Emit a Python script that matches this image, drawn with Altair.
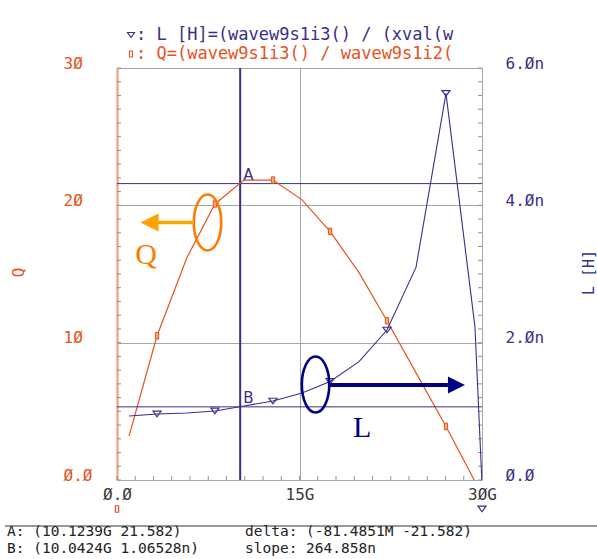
import altair as alt
import pandas as pd

# ---------------- data ----------------
freq_g = [0.99, 3.29, 5.75, 8.05, 10.44, 12.82, 15.21, 17.51, 19.89, 22.19, 24.58, 27.04, 29.42, 30.0]
q_vals = [3.2, 10.5, 16.2, 20.1, 21.84, 21.84, 20.4, 18.1, 15.1, 11.6, 7.8, 3.9, -0.1, None]
l_vals_nh = [0.932, 0.961, 0.976, 1.005, 1.078, 1.150, 1.267, 1.435, 1.723, 2.184, 3.10, 5.63, 2.233, -0.05]
has_marker = [0, 1, 0, 1, 0, 1, 0, 1, 0, 1, 0, 1, 0, 0]

cursor_a = {"f": 10.1239, "q": 21.582, "t": "A"}
cursor_b = {"f": 10.0424, "l": 1.06528, "t": "B"}

x_tick_values = [0, 15, 30]
x_tick_labels = ["Ø.Ø", "15G", "3ØG"]
q_tick_values = [0, 10, 20, 30]
q_tick_labels = ["Ø.Ø", "1Ø", "2Ø", "3Ø"]
l_tick_values = [0, 2, 4, 6]
l_tick_labels = ["Ø.Ø", "2.Øn", "4.Øn", "6.Øn"]
x_minor = [0, 1.5, 3, 4.5, 6, 7.5, 9, 10.5, 12, 13.5, 15, 16.5, 18, 19.5, 21, 22.5, 24, 25.5, 27, 28.5, 30]
q_minor = list(range(31))
l_minor = [round(i * 0.2, 1) for i in range(31)]

legend_l = ": L [H]=(wavew9s1i3() / (xval(w"
legend_q = ": Q=(wavew9s1i3() / wavew9s1i2("
readout_a = "A: (10.1239G 21.582)"
readout_b = "B: (10.0424G 1.06528n)"
readout_delta = "delta: (-81.4851M -21.582)"
readout_slope = "slope: 264.858n"

# annotation anchor positions (data coordinates)
q_ellipse = {"f": 7.44, "q": 18.75}
q_arrow = {"f": 3.37, "f2": 6.33, "head": 2.67, "q": 18.75}
q_letter = {"f": 2.38, "q": 16.4, "t": "Q"}
l_ellipse = {"f": 16.32, "l": 1.39}
l_arrow = {"f": 17.42, "f2": 27.2, "head": 27.9, "l": 1.385}
l_letter = {"f": 20.14, "l": 0.76, "t": "L"}

# ---------------- styling ----------------
Q_COLOR = "#e8521c"
L_COLOR = "#3b2f8a"
GRID = "#a3a7ab"
TICK = "#8f9398"
FONT = "DejaVu Sans Mono"
SANS = "DejaVu Sans"
SERIF = "Liberation Serif"

df = pd.DataFrame({"f": freq_g, "q": q_vals, "l": l_vals_nh, "m": has_marker})


def label_expr(values, labels):
    expr = "''"
    for v, t in reversed(list(zip(values, labels))):
        expr = f"datum.value == {v} ? '{t}' : {expr}"
    return expr


XS = alt.Scale(domain=[0, 30], nice=False, zero=False)
QS = alt.Scale(domain=[0, 30], nice=False, zero=False)
LS = alt.Scale(domain=[0, 6], nice=False, zero=False)

x_axis = alt.Axis(values=x_tick_values, labelExpr=label_expr(x_tick_values, x_tick_labels),
                  labelFont=FONT, labelFontSize=16, labelColor="#3a3a3a", labelFlush=False,
                  labelOverlap=False, labelBaseline="top", labelPadding=6, ticks=False, tickSize=0,
                  domain=False, grid=True, gridColor=GRID, gridWidth=1, title=None)
q_axis = alt.Axis(orient="left", values=q_tick_values, labelExpr=label_expr(q_tick_values, q_tick_labels),
                  labelFont=FONT, labelFontSize=16, labelColor=Q_COLOR, labelAlign="left",
                  labelBaseline="alphabetic", labelPadding=54, ticks=False, tickSize=0,
                  domain=True, domainColor="#f2a07e", domainWidth=2.2, grid=True, gridColor=GRID, gridWidth=1,
                  title="Q", titleFont=FONT, titleFontSize=16, titleFontWeight="normal", titleColor=Q_COLOR,
                  titleAngle=270, titleX=-99, titleY=204, titleAlign="center", titleBaseline="middle")
l_axis = alt.Axis(orient="right", values=l_tick_values, labelExpr=label_expr(l_tick_values, l_tick_labels),
                  labelFont=FONT, labelFontSize=16, labelColor=L_COLOR, labelAlign="left",
                  labelBaseline="alphabetic", labelPadding=23, ticks=False, tickSize=0,
                  domain=False, grid=False,
                  title="L [H]", titleFont=FONT, titleFontSize=15, titleFontWeight="normal", titleColor=L_COLOR,
                  titleAngle=270, titleX=106, titleY=204, titleAlign="center", titleBaseline="middle")


def X(field):
    return alt.X(field, type="quantitative", scale=XS, axis=x_axis)


def YQ(field):
    return alt.Y(field, type="quantitative", scale=QS, axis=q_axis)


def YL(field):
    return alt.Y(field, type="quantitative", scale=LS, axis=l_axis)


ELLIPSE = "M 0 -1 A 0.49 1 0 1 1 0 1 A 0.49 1 0 1 1 0 -1 Z"
HEAD_LEFT = "M -1 0 L 1 -1 L 1 1 Z"
HEAD_RIGHT = "M 1 0 L -1 -1 L -1 1 Z"
RECT_MARK = "M -0.5 -1 L 0.5 -1 L 0.5 1 L -0.5 1 Z"
TRI_MARK = "M -1 -0.7 L 1 -0.7 L 0 0.7 Z"


def text_at(txt, x, y, color, size, font=FONT, align="left", baseline="alphabetic"):
    return alt.Chart(pd.DataFrame({"t": [txt]})).mark_text(
        font=font, fontSize=size, align=align, baseline=baseline, color=color).encode(
        x=alt.value(x), y=alt.value(y), text="t:N")


# ---------------- Q (left scale) group ----------------
q_ticks = alt.Chart(pd.DataFrame({"v": q_minor})).mark_rule(color=TICK, strokeWidth=1).encode(
    y=YQ("v"), x=alt.value(0), x2=alt.value(4))
x_ticks = alt.Chart(pd.DataFrame({"v": x_minor})).mark_rule(color=TICK, strokeWidth=1).encode(
    x=X("v"), y=alt.value(408), y2=alt.value(412))

cur_a_df = pd.DataFrame([cursor_a])
cur_a_v = alt.Chart(cur_a_df).mark_rule(color=L_COLOR, strokeWidth=2).encode(x=X("f"))
cur_a_h = alt.Chart(cur_a_df).mark_rule(color=L_COLOR, strokeWidth=1).encode(y=YQ("q"))
cur_a_t = alt.Chart(cur_a_df).mark_text(color=L_COLOR, font=SANS, fontSize=15, align="left",
                                        baseline="bottom", dx=3, dy=-1).encode(
    x=X("f"), y=YQ("q"), text="t:N")

q_line = alt.Chart(df).mark_line(color=Q_COLOR, strokeWidth=1.2, clip=True).encode(x=X("f"), y=YQ("q"))
q_marks = alt.Chart(df).transform_filter("datum.m == 1").mark_point(
    shape=RECT_MARK, size=42, filled=True, fill="#f6a47e", stroke=Q_COLOR, strokeWidth=1, opacity=1).encode(
    x=X("f"), y=YQ("q"))

q_ell = alt.Chart(pd.DataFrame([q_ellipse])).mark_point(
    shape=ELLIPSE, size=3136, filled=False, stroke="#ff7a00", strokeWidth=2.6, opacity=1).encode(
    x=X("f"), y=YQ("q"))
q_arr_df = pd.DataFrame([q_arrow])
q_arr_line = alt.Chart(q_arr_df).mark_rule(color="#ffa200", strokeWidth=3.4).encode(
    x=X("f"), x2="f2:Q", y=YQ("q"))
q_arr_head = alt.Chart(q_arr_df).mark_point(
    shape=HEAD_LEFT, size=324, filled=True, color="#ffa200", opacity=1).encode(x=X("head"), y=YQ("q"))
q_let = alt.Chart(pd.DataFrame([q_letter])).mark_text(
    color="#ff7a00", font=SERIF, fontSize=30, align="center", baseline="middle").encode(
    x=X("f"), y=YQ("q"), text="t:N")

q_off = alt.Chart(pd.DataFrame({"f": [0]})).mark_point(
    shape=RECT_MARK, size=42, filled=False, stroke=Q_COLOR, strokeWidth=1.2, opacity=1).encode(
    x=X("f"), y=alt.value(441))

leg_tri = alt.Chart(pd.DataFrame({"a": [0]})).mark_point(
    shape=TRI_MARK, size=49, filled=False, stroke=L_COLOR, strokeWidth=1.1, opacity=1).encode(
    x=alt.value(14), y=alt.value(-33))
leg_rect = alt.Chart(pd.DataFrame({"a": [0]})).mark_point(
    shape=RECT_MARK, size=36, filled=False, stroke=Q_COLOR, strokeWidth=1.1, opacity=1).encode(
    x=alt.value(14), y=alt.value(-14))
leg_l = text_at(legend_l, 19, -33, L_COLOR, 17, baseline="middle")
leg_q = text_at(legend_q, 19, -14, Q_COLOR, 17, baseline="middle")

read_a = text_at(readout_a, -110, 468, "#222222", 14.5)
read_b = text_at(readout_b, -110, 485, "#222222", 14.5)
read_d = text_at(readout_delta, 128, 468, "#222222", 14.5)
read_s = text_at(readout_slope, 128, 485, "#222222", 14.5)
sep = alt.Chart(pd.DataFrame({"a": [0]})).mark_rule(color="#333333", strokeWidth=1).encode(
    x=alt.value(-112), x2=alt.value(480), y=alt.value(458))

q_group = alt.layer(q_ticks, x_ticks, cur_a_h, cur_a_v, q_line, q_marks, q_ell, q_arr_line,
                    q_arr_head, q_let, q_off, cur_a_t, leg_tri, leg_rect, leg_l, leg_q,
                    read_a, read_b, read_d, read_s, sep)

# ---------------- L (right scale) group ----------------
l_ticks = alt.Chart(pd.DataFrame({"v": l_minor})).mark_rule(color=TICK, strokeWidth=1).encode(
    y=YL("v"), x=alt.value(361), x2=alt.value(365))
cur_b_df = pd.DataFrame([cursor_b])
cur_b_h = alt.Chart(cur_b_df).mark_rule(color=L_COLOR, strokeWidth=1).encode(y=YL("l"))
cur_b_t = alt.Chart(cur_b_df).mark_text(color=L_COLOR, font=SANS, fontSize=15, align="left",
                                        baseline="bottom", dx=4, dy=-1).encode(
    x=X("f"), y=YL("l"), text="t:N")
l_line = alt.Chart(df).mark_line(color=L_COLOR, strokeWidth=1.1, clip=True).encode(x=X("f"), y=YL("l"))
l_marks = alt.Chart(df).transform_filter("datum.m == 1").mark_point(
    shape=TRI_MARK, size=64, filled=False, stroke=L_COLOR, strokeWidth=1.2, opacity=1).encode(
    x=X("f"), y=YL("l"))
l_ell = alt.Chart(pd.DataFrame([l_ellipse])).mark_point(
    shape=ELLIPSE, size=3136, filled=False, stroke="#000080", strokeWidth=2.6, opacity=1).encode(
    x=X("f"), y=YL("l"))
l_arr_df = pd.DataFrame([l_arrow])
l_arr_line = alt.Chart(l_arr_df).mark_rule(color="#000080", strokeWidth=4).encode(
    x=X("f"), x2="f2:Q", y=YL("l"))
l_arr_head = alt.Chart(l_arr_df).mark_point(
    shape=HEAD_RIGHT, size=289, filled=True, color="#000080", opacity=1).encode(x=X("head"), y=YL("l"))
l_let = alt.Chart(pd.DataFrame([l_letter])).mark_text(
    color="#000080", font=SERIF, fontSize=30, align="center", baseline="middle").encode(
    x=X("f"), y=YL("l"), text="t:N")
l_off = alt.Chart(pd.DataFrame({"f": [30]})).mark_point(
    shape=TRI_MARK, size=64, filled=False, stroke=L_COLOR, strokeWidth=1.2, opacity=1).encode(
    x=X("f"), y=alt.value(441))

l_group = alt.layer(l_ticks, cur_b_h, l_line, l_marks, l_ell, l_arr_line, l_arr_head,
                    l_let, l_off, cur_b_t)

chart = alt.layer(q_group, l_group).resolve_scale(y="independent").properties(
    width=365, height=412,
    autosize=alt.AutoSizeParams(type="none"),
    padding={"left": 117, "top": 68, "right": 115, "bottom": 79},
).configure_view(stroke="#a0a4a8", strokeWidth=1.2).configure(background="white")

chart.save("out.html", embed_options={"renderer": "svg", "actions": False})
